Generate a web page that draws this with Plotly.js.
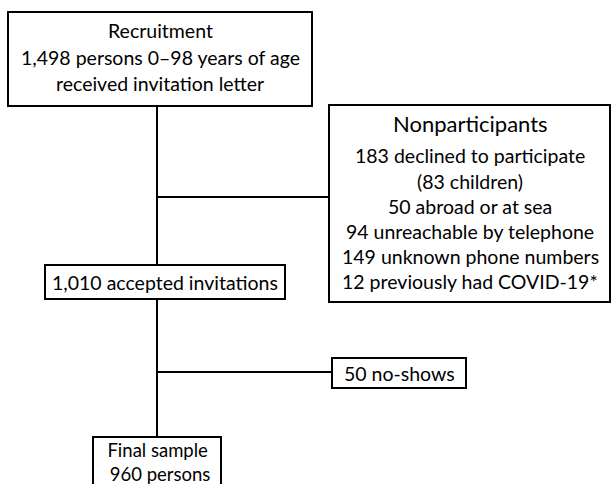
<!DOCTYPE html>
<html>
<head>
<meta charset="utf-8">
<script src="https://cdn.plot.ly/plotly-3.0.1.min.js"></script>
<style>html,body{margin:0;padding:0;background:#fff;}#chart{width:612px;height:484px;}</style>
</head>
<body>
<div id="chart"></div>
<script>
// Flowchart content
const recruitLines = ["Recruitment", "1,498 persons 0\u201398 years of age", "received invitation letter"];
const nonpartTitle = "Nonparticipants";
const nonpartLines = ["183 declined to participate", "(83 children)", "50 abroad or at sea",
  "94 unreachable by telephone", "149 unknown phone numbers", "12 previously had COVID-19*"];
const acceptedLines = ["1,010 accepted invitations"];
const noShowLines = ["50 no-shows"];
const finalLines = ["Final sample", "\u00a0960 persons"];

// Layout geometry (pixel-like axis units)
const boxes = [
  {x0: 8, x1: 312, y0: 12, y1: 106},
  {x0: 329, x1: 610, y0: 105, y1: 302},
  {x0: 45, x1: 285, y0: 265, y1: 299},
  {x0: 332, x1: 466, y0: 358, y1: 388},
  {x0: 93, x1: 221, y0: 437, y1: 500}
];
const connectors = [
  {x0: 157, y0: 106, x1: 157, y1: 265},
  {x0: 157, y0: 299, x1: 157, y1: 437},
  {x0: 157, y0: 197, x1: 329, y1: 197},
  {x0: 157, y0: 372, x1: 332, y1: 372}
];

const FONT = "Lato, 'Open Sans', sans-serif";
const shapes = [];
boxes.forEach(b => shapes.push({type: 'rect', xref: 'x', yref: 'y', x0: b.x0, x1: b.x1, y0: b.y0, y1: b.y1,
  line: {color: '#000', width: 2}, fillcolor: 'rgba(0,0,0,0)'}));
connectors.forEach(c => shapes.push({type: 'line', xref: 'x', yref: 'y', x0: c.x0, x1: c.x1, y0: c.y0, y1: c.y1,
  line: {color: '#000', width: 2}}));

const annotations = [];
function addLines(lines, cx, ys, size) {
  lines.forEach((t, i) => annotations.push({xref: 'x', yref: 'y', x: cx, y: ys[i], text: t, showarrow: false,
    xanchor: 'center', yanchor: 'middle', font: {family: FONT, size: size || 19.5, color: '#000'}}));
}
addLines(recruitLines, 160, [30, 57, 83]);
addLines([nonpartTitle], 470, [123], 22);
addLines(nonpartLines, 470, [155, 181, 206, 231, 256, 281]);
addLines(acceptedLines, 165, [282]);
addLines(noShowLines, 399, [373]);
// two-line label in one text block
annotations.push({xref: 'x', yref: 'y', x: 157, y: 462, text: finalLines.join('<br>'), showarrow: false,
  xanchor: 'center', yanchor: 'middle', align: 'center', borderpad: 0,
  font: {family: FONT, size: 18.5, color: '#000'}});

Plotly.newPlot('chart', [], {
  width: 612, height: 484,
  margin: {l: 0, r: 0, t: 0, b: 0},
  paper_bgcolor: '#fff', plot_bgcolor: '#fff',
  showlegend: false,
  xaxis: {range: [0, 612], visible: false, fixedrange: true},
  yaxis: {range: [484, 0], visible: false, fixedrange: true},
  shapes: shapes,
  annotations: annotations
}, {staticPlot: true, displayModeBar: false});
</script>
</body>
</html>
